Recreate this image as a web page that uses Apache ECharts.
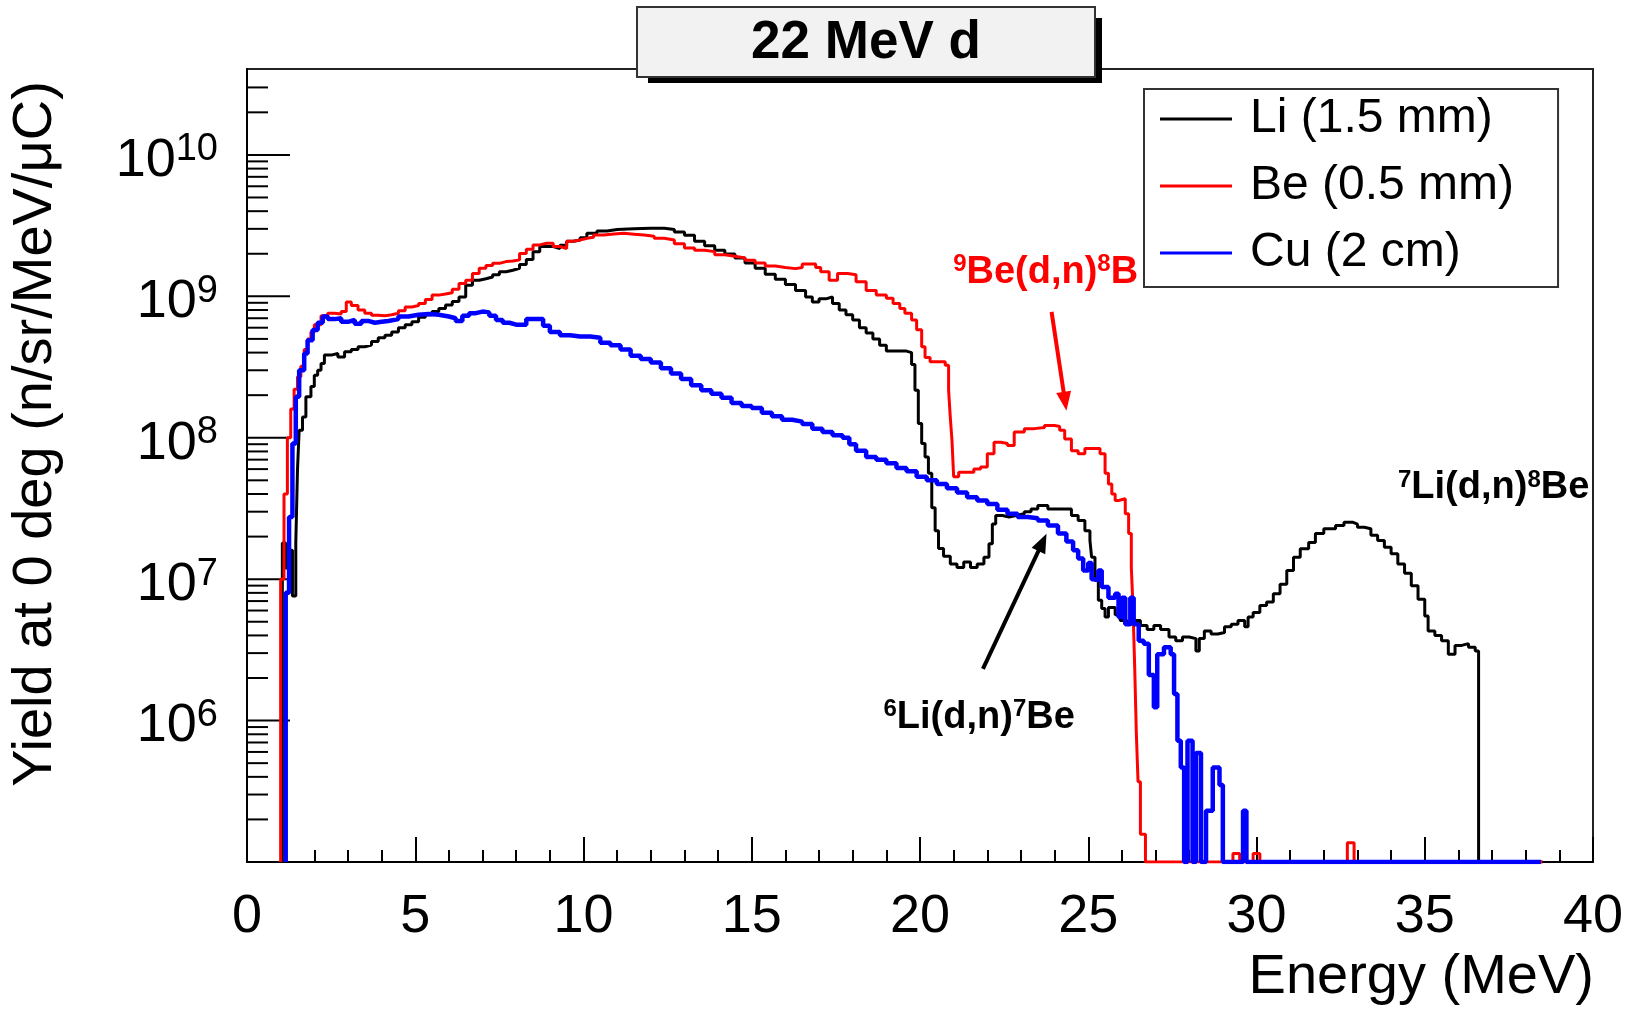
<!DOCTYPE html>
<html>
<head>
<meta charset="utf-8">
<title>22 MeV d</title>
<script src="https://cdn.jsdelivr.net/npm/echarts@6.0.0/dist/echarts.min.js"></script>
<style>
  html, body { margin: 0; padding: 0; background: #fff; }
  #chart { width: 1633px; height: 1011px; }
</style>
</head>
<body>
<div id="chart"></div>
<script>
// [energy (MeV, left bin edge), yield], 0 = empty bin
const liPoints = [
  [1.05, 0], [1.05, 1.8e7], [1.15, 1.2e7], [1.25, 1.6e7], [1.35, 7.6e6], [1.45, 1.8e7], [1.5, 5.9e7],
  [1.55, 1.13e8], [1.65, 1.4e8], [1.75, 1.95e8], [1.9, 2.3e8], [2.0, 2.77e8], [2.1, 3.0e8], [2.2, 3.35e8],
  [2.3, 3.84e8], [2.5, 3.94e8], [2.7, 3.73e8], [2.9, 4.05e8], [3.1, 4.2e8], [3.3, 4.4e8], [3.5, 4.52e8],
  [3.7, 4.8e8], [3.9, 5.1e8], [4.1, 5.3e8], [4.3, 5.6e8], [4.5, 6.0e8], [4.7, 6.3e8], [4.9, 6.6e8],
  [5.1, 7.1e8], [5.3, 7.4e8], [5.5, 7.8e8], [5.7, 8.2e8], [5.9, 8.7e8], [6.1, 9.2e8], [6.3, 9.9e8],
  [6.5, 1.2e9], [6.7, 1.3e9], [6.9, 1.33e9], [7.1, 1.37e9], [7.3, 1.42e9], [7.5, 1.49e9], [7.7, 1.53e9],
  [7.9, 1.58e9], [8.1, 1.68e9], [8.3, 1.82e9], [8.5, 2.07e9], [8.7, 2.25e9], [8.9, 2.25e9], [9.1, 2.18e9],
  [9.3, 2.3e9], [9.5, 2.45e9], [9.7, 2.5e9], [9.9, 2.6e9], [10.1, 2.79e9], [10.4, 2.9e9], [10.7, 2.97e9],
  [11.0, 3.0e9], [11.5, 3.03e9], [12.0, 3.03e9], [12.4, 2.97e9], [12.7, 2.85e9], [13.0, 2.7e9],
  [13.3, 2.45e9], [13.6, 2.28e9], [13.9, 2.12e9], [14.2, 1.99e9], [14.5, 1.87e9], [14.8, 1.72e9],
  [15.1, 1.58e9], [15.4, 1.43e9], [15.7, 1.32e9], [16.0, 1.21e9], [16.3, 1.1e9], [16.6, 9.9e8],
  [16.8, 9.1e8], [17.0, 9.6e8], [17.2, 9.9e8], [17.4, 8.9e8], [17.6, 8.0e8], [17.8, 7.4e8], [18.0, 6.8e8],
  [18.2, 6.0e8], [18.4, 5.5e8], [18.6, 5.0e8], [18.8, 4.5e8], [19.0, 4.1e8], [19.3, 4.1e8], [19.6, 4.0e8],
  [19.75, 3.3e8], [19.85, 2.17e8], [19.95, 1.26e8], [20.05, 9.1e7], [20.15, 7.3e7], [20.25, 5.6e7],
  [20.35, 3.2e7], [20.45, 2.2e7], [20.55, 1.65e7], [20.7, 1.45e7], [20.9, 1.28e7], [21.1, 1.21e7],
  [21.3, 1.32e7], [21.5, 1.21e7], [21.7, 1.28e7], [21.9, 1.43e7], [22.05, 1.78e7], [22.15, 2.46e7],
  [22.25, 2.82e7], [22.45, 2.75e7], [22.65, 2.82e7], [22.85, 2.9e7], [23.1, 3.0e7], [23.3, 3.14e7],
  [23.5, 3.32e7], [23.8, 3.14e7], [24.1, 3.14e7], [24.5, 2.82e7], [24.7, 2.6e7], [24.9, 2.2e7],
  [25.05, 1.88e7], [25.1, 1.43e7], [25.2, 9.8e6], [25.3, 7.1e6], [25.4, 6.2e6], [25.5, 5.4e6],
  [25.6, 6.3e6], [25.8, 5.6e6], [25.95, 5.1e6], [26.15, 4.8e6], [26.35, 5.1e6], [26.55, 4.7e6],
  [26.75, 4.4e6], [26.95, 4.7e6], [27.15, 4.4e6], [27.4, 3.9e6], [27.6, 3.67e6], [27.8, 3.9e6],
  [28.0, 3.8e6], [28.2, 3.1e6], [28.3, 3.8e6], [28.45, 4.3e6], [28.65, 4.1e6], [28.85, 4.2e6],
  [29.05, 4.6e6], [29.25, 4.8e6], [29.45, 5.1e6], [29.65, 4.6e6], [29.75, 5.4e6], [29.9, 5.8e6],
  [30.1, 6.5e6], [30.3, 6.9e6], [30.5, 7.9e6], [30.7, 9.2e6], [30.9, 1.15e7], [31.1, 1.43e7],
  [31.3, 1.64e7], [31.55, 1.82e7], [31.75, 2.1e7], [32.0, 2.27e7], [32.35, 2.4e7], [32.6, 2.53e7],
  [32.85, 2.45e7], [33.0, 2.33e7], [33.2, 2.27e7], [33.4, 2.04e7], [33.6, 1.88e7], [33.8, 1.68e7],
  [34.0, 1.51e7], [34.2, 1.28e7], [34.4, 1.1e7], [34.6, 9.0e6], [34.8, 7.2e6], [35.0, 5.5e6],
  [35.1, 4.3e6], [35.3, 4.0e6], [35.5, 3.67e6], [35.7, 2.95e6], [35.9, 3.4e6], [36.1, 3.5e6],
  [36.3, 3.3e6], [36.5, 3.1e6], [36.6, 0], [38.5, 0]
];

const bePoints = [
  [1.0, 0], [1.0, 1.0e7], [1.1, 4.0e7], [1.2, 1.0e8], [1.3, 1.6e8], [1.4, 2.2e8], [1.5, 2.7e8],
  [1.6, 3.2e8], [1.7, 4.2e8], [1.8, 5.0e8], [1.9, 5.6e8], [2.0, 6.3e8], [2.2, 7.3e8], [2.4, 7.6e8],
  [2.6, 7.5e8], [2.8, 7.8e8], [2.95, 9.1e8], [3.1, 8.6e8], [3.3, 8.0e8], [3.5, 7.6e8], [3.7, 7.35e8],
  [3.9, 7.3e8], [4.1, 7.4e8], [4.3, 7.6e8], [4.5, 7.9e8], [4.7, 8.4e8], [4.9, 8.6e8], [5.1, 8.9e8],
  [5.3, 9.5e8], [5.5, 1.02e9], [5.7, 1.04e9], [5.9, 1.06e9], [6.1, 1.12e9], [6.3, 1.23e9], [6.5, 1.3e9],
  [6.7, 1.45e9], [6.9, 1.58e9], [7.1, 1.65e9], [7.3, 1.71e9], [7.5, 1.76e9], [7.7, 1.78e9], [7.9, 1.81e9],
  [8.1, 2.01e9], [8.3, 2.15e9], [8.5, 2.31e9], [8.7, 2.37e9], [8.9, 2.37e9], [9.1, 2.25e9], [9.3, 2.18e9],
  [9.5, 2.45e9], [9.7, 2.5e9], [9.9, 2.57e9], [10.1, 2.62e9], [10.3, 2.71e9], [10.6, 2.76e9],
  [10.9, 2.79e9], [11.2, 2.75e9], [11.5, 2.71e9], [11.8, 2.66e9], [12.1, 2.57e9], [12.4, 2.5e9],
  [12.7, 2.35e9], [13.0, 2.2e9], [13.3, 2.12e9], [13.6, 2.07e9], [13.9, 1.97e9], [14.2, 1.92e9],
  [14.5, 1.87e9], [14.8, 1.8e9], [15.1, 1.72e9], [15.4, 1.64e9], [15.7, 1.6e9], [16.0, 1.57e9],
  [16.3, 1.6e9], [16.5, 1.69e9], [16.9, 1.6e9], [17.05, 1.49e9], [17.3, 1.3e9], [17.55, 1.45e9],
  [17.85, 1.42e9], [18.1, 1.27e9], [18.4, 1.1e9], [18.7, 1.02e9], [19.0, 9.7e8], [19.2, 8.9e8],
  [19.4, 8.2e8], [19.55, 7.6e8], [19.75, 6.8e8], [19.9, 5.8e8], [20.05, 4.4e8], [20.15, 3.7e8],
  [20.3, 3.44e8], [20.75, 3.26e8], [20.85, 2.17e8], [20.9, 1.4e8], [20.95, 9.6e7], [21.0, 5.3e7],
  [21.15, 5.7e7], [21.6, 6.0e7], [21.8, 6.2e7], [22.0, 7.7e7], [22.2, 9.3e7], [22.4, 9.1e7],
  [22.6, 8.8e7], [22.8, 1.1e8], [23.1, 1.16e8], [23.4, 1.18e8], [23.7, 1.22e8], [24.0, 1.2e8],
  [24.15, 1.13e8], [24.3, 9.8e7], [24.5, 8.1e7], [24.7, 7.7e7], [24.9, 8.4e7], [25.35, 7.7e7],
  [25.5, 5.6e7], [25.6, 4.7e7], [25.7, 4.0e7], [25.8, 3.6e7], [25.9, 3.7e7], [26.1, 2.9e7],
  [26.2, 2.1e7], [26.28, 1.21e7], [26.33, 6.3e6], [26.38, 2.4e6], [26.43, 8e5], [26.48, 3.7e5],
  [26.55, 1.57e5], [26.7, 0], [29.3, 1.15e5], [29.5, 0], [29.9, 1.15e5], [30.1, 0],
  [32.7, 1.37e5], [32.9, 0], [38.5, 0]
];

const cuPoints = [
  [1.15, 0], [1.15, 8e6], [1.25, 2.75e7], [1.35, 9.1e7], [1.45, 1.95e8], [1.55, 3.0e8], [1.7, 3.94e8],
  [1.8, 4.9e8], [1.95, 5.77e8], [2.1, 6.5e8], [2.25, 7.2e8], [2.4, 6.9e8], [2.6, 7.0e8], [2.8, 6.6e8],
  [3.0, 6.8e8], [3.2, 6.4e8], [3.4, 6.7e8], [3.6, 6.5e8], [3.8, 6.6e8], [4.0, 6.7e8], [4.2, 6.9e8],
  [4.5, 7.2e8], [4.8, 7.4e8], [5.1, 7.5e8], [5.4, 7.4e8], [5.7, 7.2e8], [6.0, 7.0e8], [6.2, 6.7e8],
  [6.4, 7.3e8], [6.6, 7.6e8], [6.8, 7.8e8], [7.0, 7.7e8], [7.2, 7.3e8], [7.4, 6.8e8], [7.6, 6.5e8],
  [7.8, 6.3e8], [8.0, 6.3e8], [8.3, 6.9e8], [8.6, 6.9e8], [8.8, 6.2e8], [9.0, 5.6e8], [9.3, 5.3e8],
  [9.6, 5.2e8], [9.9, 5.2e8], [10.2, 5.1e8], [10.5, 4.7e8], [10.8, 4.5e8], [11.1, 4.2e8], [11.4, 3.8e8],
  [11.7, 3.6e8], [12.0, 3.4e8], [12.3, 3.1e8], [12.6, 2.85e8], [12.9, 2.6e8], [13.2, 2.35e8],
  [13.5, 2.17e8], [13.8, 2.05e8], [14.1, 1.92e8], [14.4, 1.76e8], [14.7, 1.68e8], [15.0, 1.62e8],
  [15.3, 1.5e8], [15.6, 1.42e8], [15.9, 1.34e8], [16.2, 1.3e8], [16.5, 1.25e8], [16.8, 1.16e8],
  [17.1, 1.1e8], [17.4, 1.04e8], [17.7, 1.0e8], [17.9, 9.0e7], [18.1, 8.1e7], [18.4, 7.3e7],
  [18.7, 7.0e7], [19.0, 6.6e7], [19.3, 6.1e7], [19.6, 5.8e7], [19.9, 5.3e7], [20.2, 5.0e7],
  [20.5, 4.7e7], [20.8, 4.4e7], [21.1, 4.1e7], [21.4, 3.8e7], [21.7, 3.6e7], [22.0, 3.4e7],
  [22.3, 3.1e7], [22.6, 2.9e7], [22.9, 2.75e7], [23.2, 2.7e7], [23.5, 2.6e7], [23.8, 2.4e7],
  [24.1, 2.1e7], [24.35, 1.85e7], [24.55, 1.6e7], [24.7, 1.4e7], [24.85, 1.15e7], [25.0, 1.3e7],
  [25.1, 1.0e7], [25.2, 9.8e6], [25.3, 1.15e7], [25.4, 8.8e6], [25.6, 7.4e6], [25.8, 7.9e6],
  [25.9, 5.4e6], [26.0, 7.4e6], [26.1, 4.8e6], [26.25, 7.4e6], [26.35, 4.8e6], [26.5, 3.67e6],
  [26.65, 3.5e6], [26.8, 2.1e6], [26.95, 1.24e6], [27.05, 2.95e6], [27.25, 3.3e6], [27.45, 2.95e6],
  [27.55, 1.54e6], [27.65, 7.2e5], [27.75, 4.66e5], [27.85, 0], [27.95, 7.2e5], [28.1, 0],
  [28.2, 5.9e5], [28.35, 0], [28.5, 2.3e5], [28.7, 4.66e5], [28.9, 3.5e5], [29.0, 0],
  [29.6, 2.3e5], [29.7, 0], [38.45, 0]
];

const seriesNames = ['Li (1.5 mm)', 'Be (0.5 mm)', 'Cu (2 cm)'];

// axis ranges and labelled powers of ten
const XMIN = 0, XMAX = 40;
const YMIN = 1e5, YMAX = 4.05e10;
const yLabelPowers = [6, 7, 8, 9, 10];
const yDecades = [5, 6, 7, 8, 9, 10];
const yMantissas = [1, 2, 3, 4, 5, 6, 7, 8, 9];

// reaction labels: [superscript, body, superscript, body], anchored at [E, yield]
const redLabel = { parts: ['9', 'Be(d,n)', '8', 'B'], at: [20.97, 1.48e9] };
const li6Label = { parts: ['6', 'Li(d,n)', '7', 'Be'], at: [18.9, 1.05e6] };
const li7Label = { parts: ['7', 'Li(d,n)', '8', 'Be'], at: [34.19, 4.42e7] };
// arrows: from [E, yield] to [E, yield]
const redArrow = [[23.91, 7.76e8], [24.31, 1.81e8]];
const blackArrow = [[21.87, 2.32e6], [23.64, 1.82e7]];

const FONT = "'Liberation Sans', Arial, Helvetica, sans-serif";

function toSeriesData(points) {
  // empty bins sit on the bottom of the frame, as in the log plot
  return points.map(([e, v]) => [e, v > 0 ? v : YMIN]);
}

const yTickValues = [];
yDecades.forEach(d => {
  yMantissas.forEach(m => {
    const v = m * Math.pow(10, d);
    if (v >= YMIN && v < YMAX / 1.02) yTickValues.push(v);
  });
});

function richParts(parts) {
  return '{p|' + parts[0] + '}{m|' + parts[1] + '}{p|' + parts[2] + '}{m|' + parts[3] + '}';
}

function reactionPoint(lbl, color) {
  return {
    coord: lbl.at,
    symbol: 'circle',
    symbolSize: 1,
    itemStyle: { color: 'rgba(0,0,0,0)' },
    label: {
      show: true,
      position: 'right',
      distance: 0,
      formatter: () => richParts(lbl.parts),
      rich: {
        m: { fontSize: 38, fontWeight: 'bold', fontFamily: FONT, color: color, lineHeight: 40 },
        p: { fontSize: 24, fontWeight: 'bold', fontFamily: FONT, color: color, lineHeight: 30, verticalAlign: 'top' }
      }
    }
  };
}

const chart = echarts.init(document.getElementById('chart'), null, { renderer: 'canvas' });

const option = {
  animation: false,
  backgroundColor: '#ffffff',
  textStyle: { fontFamily: FONT },
  grid: {
    left: 247, right: 40, top: 69, bottom: 149,
    show: true, borderColor: '#222', borderWidth: 2,
    outerBoundsMode: 'none'
  },
  legend: {
    data: seriesNames,
    orient: 'vertical',
    left: 1144,
    top: 89,
    padding: [5, 44, 9, 16],
    itemWidth: 72,
    itemHeight: 3,
    itemGap: 17,
    icon: 'rect',
    selectedMode: false,
    backgroundColor: '#ffffff',
    borderColor: '#333',
    borderWidth: 2,
    borderRadius: 0,
    textStyle: { fontSize: 48, fontFamily: FONT, color: '#000', lineHeight: 50, padding: [0, 0, 0, 13] }
  },
  xAxis: {
    type: 'value',
    min: XMIN,
    max: XMAX,
    interval: 5,
    axisLine: { show: true, lineStyle: { color: '#000', width: 2 } },
    axisTick: { show: true, inside: true, length: 25, lineStyle: { color: '#000', width: 2 } },
    minorTick: { show: true, splitNumber: 5, length: 12, lineStyle: { color: '#000', width: 2 } },
    splitLine: { show: false },
    minorSplitLine: { show: false },
    axisLabel: { fontSize: 54, color: '#000', margin: 28, fontFamily: FONT }
  },
  yAxis: {
    type: 'log',
    logBase: 10,
    min: YMIN,
    max: YMAX,
    axisLine: { show: true, lineStyle: { color: '#000', width: 2 } },
    axisTick: { show: false },
    splitLine: { show: false },
    axisLabel: {
      margin: 29,
      padding: [12, 0, 0, 0],
      color: '#000',
      formatter: function (value) {
        const p = Math.round(Math.log10(value));
        if (Math.abs(value / Math.pow(10, p) - 1) > 1e-6) return '';
        if (yLabelPowers.indexOf(p) < 0) return '';
        return '{b|10}{s|' + p + '}';
      },
      rich: {
        b: { fontSize: 54, fontFamily: FONT, color: '#000', lineHeight: 60 },
        s: { fontSize: 38, fontFamily: FONT, color: '#000', lineHeight: 20, verticalAlign: 'top' }
      }
    }
  },
  series: [
    {
      type: 'custom',
      silent: true,
      z: 1,
      renderItem: function (params, api) {
        const v = api.value(1);
        const p = api.coord([XMIN, v]);
        const lg = Math.log10(v);
        const major = Math.abs(lg - Math.round(lg)) < 1e-6;
        const len = major ? 43 : 21;
        return {
          type: 'line',
          shape: { x1: p[0], y1: p[1], x2: p[0] + len, y2: p[1] },
          style: { stroke: '#000', lineWidth: 2 }
        };
      },
      data: yTickValues.map(v => [XMIN, v])
    },
    {
      name: seriesNames[0],
      type: 'line',
      step: 'end',
      showSymbol: false,
      symbol: 'none',
      z: 2,
      color: '#000000',
      lineStyle: { color: '#000000', width: 3 },
      data: toSeriesData(liPoints)
    },
    {
      name: seriesNames[1],
      type: 'line',
      step: 'end',
      showSymbol: false,
      symbol: 'none',
      z: 3,
      color: '#ff0000',
      lineStyle: { color: '#ff0000', width: 3 },
      data: toSeriesData(bePoints)
    },
    {
      name: seriesNames[2],
      type: 'line',
      step: 'end',
      showSymbol: false,
      symbol: 'none',
      z: 4,
      color: '#0000ff',
      lineStyle: { color: '#0000ff', width: 4.5 },
      data: toSeriesData(cuPoints),
      markLine: {
        silent: true,
        symbol: ['none', 'triangle'],
        symbolSize: [15, 19],
        label: { show: false },
        emphasis: { disabled: true },
        data: [
          [
            { coord: redArrow[0], lineStyle: { color: '#ff0000', width: 4, type: 'solid' }, itemStyle: { color: '#ff0000' } },
            { coord: redArrow[1] }
          ],
          [
            { coord: blackArrow[0], lineStyle: { color: '#000000', width: 4, type: 'solid' }, itemStyle: { color: '#000000' } },
            { coord: blackArrow[1] }
          ]
        ]
      },
      markPoint: {
        silent: true,
        data: [
          reactionPoint(redLabel, '#ff0000'),
          reactionPoint(li6Label, '#000000'),
          reactionPoint(li7Label, '#000000')
        ]
      }
    }
  ],
  graphic: [
    {
      type: 'rect', z: 100,
      shape: { x: 648, y: 18, width: 454, height: 65 },
      style: { fill: '#000' }
    },
    {
      type: 'rect', z: 101,
      shape: { x: 637, y: 7, width: 458, height: 70 },
      style: { fill: '#f2f2f2', stroke: '#333', lineWidth: 2 }
    },
    {
      type: 'text', z: 102, x: 866, y: 43,
      style: {
        text: '22 MeV d', font: 'bold 53px ' + FONT, fill: '#000',
        align: 'center', verticalAlign: 'middle', textAlign: 'center', textVerticalAlign: 'middle'
      }
    },
    {
      type: 'text', z: 102, x: 36, y: 434, rotation: Math.PI / 2,
      style: {
        text: 'Yield at 0 deg (n/sr/MeV/μC)', font: '56px ' + FONT, fill: '#000',
        align: 'center', verticalAlign: 'middle', textAlign: 'center', textVerticalAlign: 'middle'
      }
    },
    {
      type: 'text', z: 102, x: 1594, y: 978,
      style: {
        text: 'Energy (MeV)', font: '56px ' + FONT, fill: '#000',
        align: 'right', verticalAlign: 'middle', textAlign: 'right', textVerticalAlign: 'middle'
      }
    }
  ]
};

chart.setOption(option);
</script>
</body>
</html>
